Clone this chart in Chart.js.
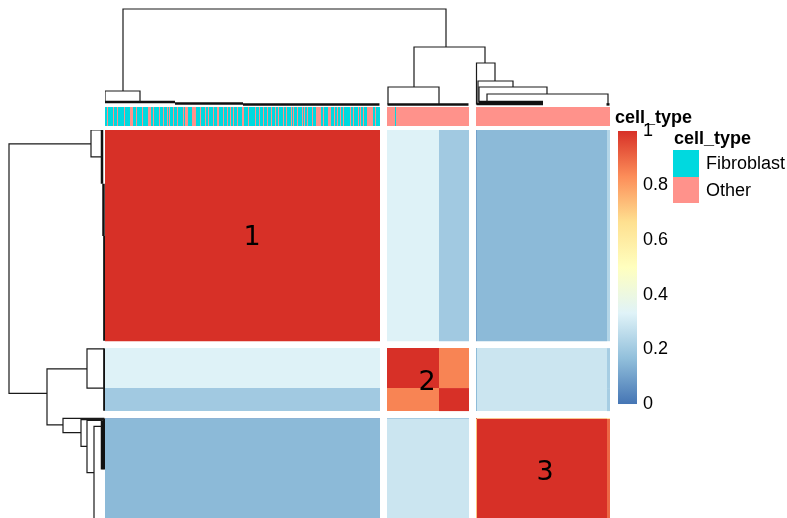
<!DOCTYPE html>
<html>
<head>
<meta charset="utf-8">
<script src="https://cdn.jsdelivr.net/npm/chart.js@4.4.1/dist/chart.umd.min.js"></script>
<style>
  html, body { margin: 0; padding: 0; background: #fff; }
  body { width: 787px; height: 518px; overflow: hidden; position: relative;
         font-family: "Liberation Sans", Arial, sans-serif; }
  canvas { position: absolute; }
  .lbl { position: absolute; font-size: 18px; line-height: 22px; color: #000; white-space: nowrap; }
  .b { font-weight: bold; }
  .sw { position: absolute; width: 26px; }
</style>
</head>
<body>
<canvas id="treeTop" width="505" height="106" style="left:105px;top:0"></canvas>
<canvas id="annot" width="505" height="19" style="left:105px;top:107px"></canvas>
<canvas id="treeLeft" width="106" height="388" style="left:0;top:130px"></canvas>
<canvas id="heat" width="505" height="388" style="left:105px;top:130px"></canvas>
<canvas id="colorBar" width="63" height="307" style="left:618px;top:114px"></canvas>
<div id="legend"></div>
<script>
// sample groups in dendrogram order (same order on rows and columns)
const segNames = ['A', 'B1', 'B2', 'C-first', 'C-main', 'C-last'];
const segSizes = [275, 52, 30, 1, 130, 3];
// correlation between groups
const corr = [
    [1.00, 0.33, 0.20, 0.10, 0.155, 0.24],
    [0.33, 1.00, 0.85, 0.16, 0.29, 0.21],
    [0.20, 0.85, 1.00, 0.16, 0.29, 0.21],
    [0.10, 0.16, 0.16, 1.00, 0.72, 0.60],
    [0.155, 0.29, 0.29, 0.72, 1.00, 0.90],
    [0.24, 0.21, 0.21, 0.60, 0.90, 1.00]
];
// first sample of each gap-separated block (cutree k = 3)
const blockStarts = [0, 275, 357];
const colGap = 7;
const rowGap = 9;

// annotation
const cellTypes = ['Fibroblast', 'Other'];
const cellTypeColors = ['#00d9df', '#ff928b'];
// samples of block 1 annotated "Other" (the rest are Fibroblast)
const otherInBlock1 = [2, 8, 12, 19, 25, 26, 27, 31, 37, 43, 44, 45, 48, 54, 58, 62, 64, 68, 72,
    78, 80, 81, 82, 87, 88, 89, 90, 95, 100, 103, 108, 112, 113, 118, 122, 125, 128, 132,
    137, 138, 143, 150, 154, 158, 162, 166, 170, 173, 178, 181, 186, 188, 192, 197, 199,
    202, 207, 211, 212, 213, 214, 215, 218, 223, 224, 225, 229, 232, 235, 238, 245, 248,
    253, 255, 258, 262, 263, 264, 265, 266, 267, 270];
// samples of blocks 2 and 3 annotated "Fibroblast"
const fibroOutside = [283];

// dendrogram: [leftPos, leftHeight, rightPos, rightHeight, mergeHeight]
const treeMerges = [
    [18, 14, 334, 58, 96],
    [0, 3, 35, 3, 14],
    [302, 18, 366, 42, 58],
    [276, 0.6, 327, 0.6, 18],
    [357.5, 0.6, 376, 24, 42],
    [359, 1, 394, 18, 24],
    [360, 3, 428, 11, 18],
    [368, 3, 489, 0.6, 11]
];
// dense low merges, drawn as one bar each: [fromPos, toPos, height]
const treeFloor = [
    [0, 70, 3], [70, 138, 1.5], [138, 274.5, 0.6],
    [275.5, 356.5, 0.6],
    [357.5, 424, 1], [360, 424, 3], [487.5, 490.5, 0.6]
];

const clusterLabels = ['1', '2', '3'];
const clusterLabelX = [147, 322, 440];
const clusterLabelY = [141, 330, 447];

// colorRampPalette(rev(brewer.pal(7, "RdYlBu")))
const palette = ['#4575B4', '#91BFDB', '#E0F3F8', '#FFFFBF', '#FEE090', '#FC8D59', '#D73027'];
const colorTicksStep = 0.2;

Chart.defaults.font.family = '"Liberation Sans", Arial, sans-serif';

function hexToRgb(h) {
    const n = parseInt(h.slice(1), 16);
    return [(n >> 16) & 255, (n >> 8) & 255, n & 255];
}

function heatColor(v) {
    const t = Math.min(Math.max(v, 0), 1) * (palette.length - 1);
    const i = Math.min(Math.floor(t), palette.length - 2);
    const f = t - i;
    const a = hexToRgb(palette[i]);
    const b = hexToRgb(palette[i + 1]);
    const c = a.map((x, k) => Math.round(x + (b[k] - x) * f));
    return `rgb(${c[0]},${c[1]},${c[2]})`;
}

// leaf position -> axis position, with the block gaps added
function axisPos(p, gap) {
    let n = 0;
    for (let k = 1; k < blockStarts.length; k++) {
        if (p >= blockStarts[k]) n++;
    }
    return p + n * gap;
}

function rect(x0, x1, y0, y1, color) {
    return {
        data: [{ x: x0, y: y0 }, { x: x1, y: y0 }],
        showLine: true,
        fill: { value: y1 },
        backgroundColor: color,
        borderWidth: 0,
        pointRadius: 0
    };
}

function baseOptions(scales) {
    return {
        responsive: false,
        animation: false,
        events: [],
        layout: { padding: 0 },
        plugins: { legend: { display: false }, tooltip: { enabled: false } },
        scales: scales
    };
}

const segStart = [];
segSizes.reduce((acc, s, i) => { segStart[i] = acc; return acc + s; }, 0);
const nSamples = segSizes.reduce((a, b) => a + b, 0);
const xMax = nSamples + colGap * (blockStarts.length - 1);
const yMax = 505.2;

// heatmap
const heatSets = [];
segSizes.forEach((ri, i) => {
    const y0 = axisPos(segStart[i], rowGap);
    segSizes.forEach((cj, j) => {
        const x0 = axisPos(segStart[j], colGap);
        heatSets.push(rect(x0, x0 + cj, y0, y0 + ri, heatColor(corr[i][j])));
    });
});

const labelPlugin = {
    id: 'clusterLabels',
    afterDatasetsDraw(chart) {
        const { ctx, scales: { x, y } } = chart;
        ctx.save();
        ctx.font = '27px "DejaVu Sans"';
        ctx.fillStyle = '#000';
        ctx.textAlign = 'center';
        ctx.textBaseline = 'middle';
        clusterLabels.forEach((t, i) => {
            ctx.fillText(t, x.getPixelForValue(clusterLabelX[i]), y.getPixelForValue(clusterLabelY[i]));
        });
        ctx.restore();
    }
};

new Chart(document.getElementById('heat'), {
    type: 'scatter',
    data: { datasets: heatSets },
    options: baseOptions({
        x: { type: 'linear', min: 0, max: xMax, display: false },
        y: { type: 'linear', min: 0, max: yMax, reverse: true, display: false }
    }),
    plugins: [labelPlugin]
});

// column annotation
const sampleType = [];
for (let p = 0; p < nSamples; p++) {
    if (p < blockStarts[1]) sampleType.push(otherInBlock1.includes(p) ? 1 : 0);
    else sampleType.push(fibroOutside.includes(p) ? 0 : 1);
}
const annotSets = [];
let runStart = 0;
for (let p = 1; p <= nSamples; p++) {
    const blockBreak = blockStarts.includes(p);
    if (p === nSamples || sampleType[p] !== sampleType[runStart] || blockBreak) {
        const x0 = axisPos(runStart, colGap);
        annotSets.push(rect(x0, x0 + (p - runStart), 0, 1, cellTypeColors[sampleType[runStart]]));
        runStart = p;
    }
}
new Chart(document.getElementById('annot'), {
    type: 'scatter',
    data: { datasets: annotSets },
    options: baseOptions({
        x: { type: 'linear', min: 0, max: xMax, display: false },
        y: { type: 'linear', min: 0, max: 1, display: false }
    })
});

// dendrograms
function treeSets(vertical) {
    const gap = vertical ? rowGap : colGap;
    const pt = (p, h) => vertical ? { x: h, y: axisPos(p, gap) } : { x: axisPos(p, gap), y: h };
    const sets = treeMerges.map(([pl, hl, pr, hr, hm]) => ({
        data: [pt(pl, hl), pt(pl, hm), pt(pr, hm), pt(pr, hr)],
        showLine: true,
        borderColor: '#1a1a1a',
        borderWidth: 1.2,
        pointRadius: 0,
        fill: false
    }));
    treeFloor.forEach(([p0, p1, h]) => {
        sets.push({
            data: [pt(p0, h), pt(p1, h)],
            showLine: true,
            borderColor: '#111',
            borderWidth: 2.5,
            pointRadius: 0,
            fill: false
        });
    });
    return sets;
}

new Chart(document.getElementById('treeTop'), {
    type: 'scatter',
    data: { datasets: treeSets(false) },
    options: baseOptions({
        x: { type: 'linear', min: 0, max: xMax, display: false },
        y: { type: 'linear', min: -1, max: 105, display: false }
    })
});

new Chart(document.getElementById('treeLeft'), {
    type: 'scatter',
    data: { datasets: treeSets(true) },
    options: baseOptions({
        x: { type: 'linear', min: -1, max: 105, reverse: true, display: false },
        y: { type: 'linear', min: 0, max: yMax, reverse: true, display: false }
    })
});

// color key
new Chart(document.getElementById('colorBar'), {
    type: 'scatter',
    data: {
        datasets: [{
            data: [{ x: 0, y: 1 }, { x: 1, y: 1 }],
            showLine: true,
            fill: { value: 0 },
            borderWidth: 0,
            pointRadius: 0,
            backgroundColor(ctx) {
                const area = ctx.chart.chartArea;
                if (!area) return palette[0];
                const g = ctx.chart.ctx.createLinearGradient(0, area.bottom, 0, area.top);
                palette.forEach((c, i) => g.addColorStop(i / (palette.length - 1), c));
                return g;
            }
        }]
    },
    options: {
        ...baseOptions({
            x: { type: 'linear', min: 0, max: 1, display: false },
            y: {
                type: 'linear', position: 'right', min: 0, max: 1,
                ticks: {
                    stepSize: colorTicksStep, color: '#000', font: { size: 18 }, padding: 6,
                    callback: v => String(+v.toFixed(1))
                },
                grid: { display: false, drawTicks: false },
                border: { display: false },
                afterFit(scale) { scale.width = 44; }
            }
        }),
        layout: { padding: { top: 12, bottom: 12, left: 0, right: 0 } }
    }
});

// legends (text)
const legend = document.getElementById('legend');
function addLabel(text, left, top, bold) {
    const d = document.createElement('div');
    d.className = 'lbl' + (bold ? ' b' : '');
    d.style.left = left + 'px';
    d.style.top = top + 'px';
    d.textContent = text;
    legend.appendChild(d);
}
addLabel('cell_type', 615, 106, true);
addLabel('cell_type', 674, 127, true);
cellTypes.forEach((t, i) => {
    const sw = document.createElement('div');
    sw.className = 'sw';
    sw.style.left = '673px';
    sw.style.top = (150 + i * 26.5) + 'px';
    sw.style.height = '26.5px';
    sw.style.background = cellTypeColors[i];
    legend.appendChild(sw);
    addLabel(t, 706, 152 + i * 26.5, false);
});
</script>
</body>
</html>
